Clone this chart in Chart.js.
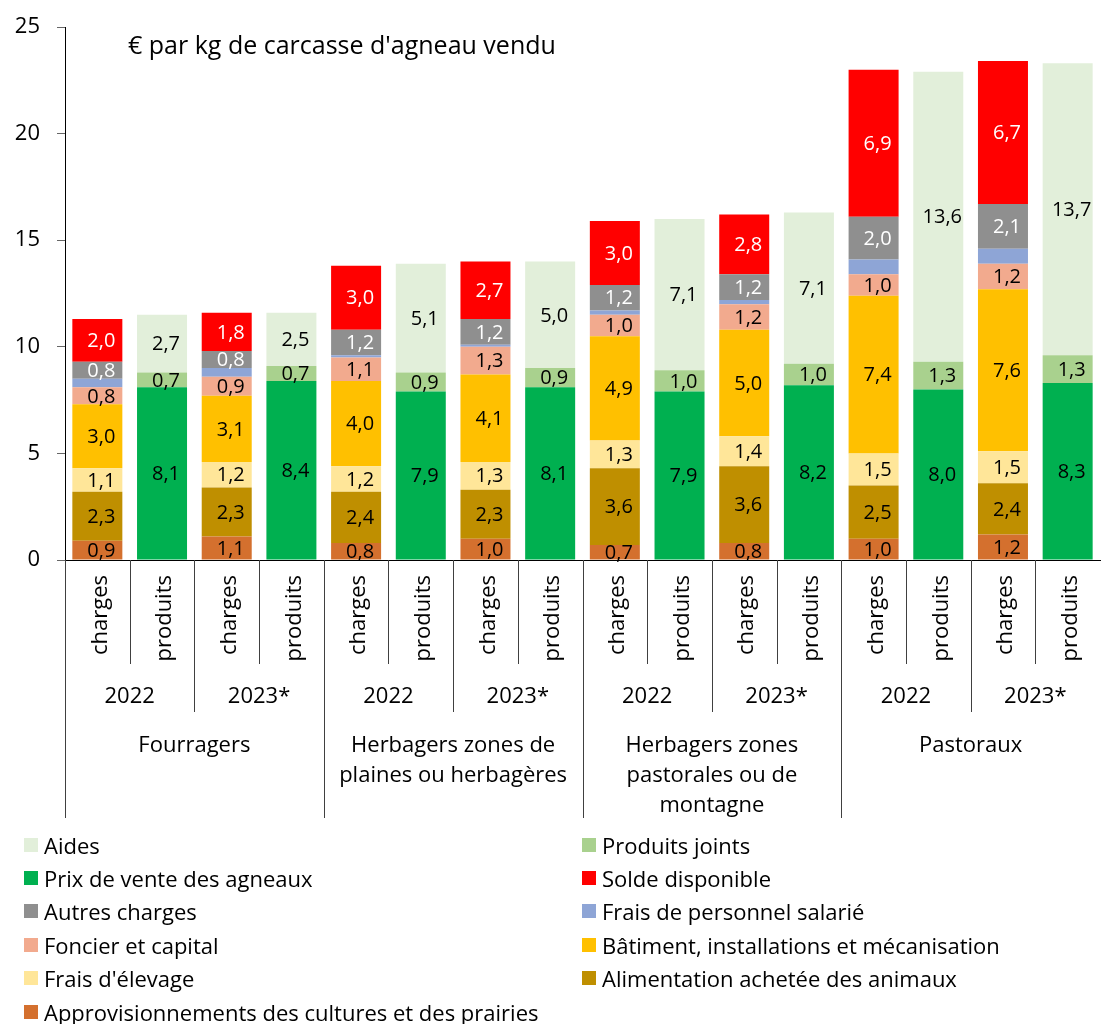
<!DOCTYPE html>
<html lang="fr">
<head>
<meta charset="utf-8">
<title>Charges et produits par kg de carcasse d'agneau</title>
<script src="https://cdn.jsdelivr.net/npm/chart.js@4/dist/chart.umd.min.js"></script>
<style>
  body { margin: 0; background: #fff; font-family: "Open Sans", Lato, sans-serif; }
  #wrap { position: relative; width: 1102px; height: 1024px; }
  #legend { position: absolute; left: 24px; top: 828px; display: grid;
            grid-template-columns: 558px 500px; grid-auto-rows: 33.4px; font-size: 22px; color: #000; }
  #legend div { display: flex; align-items: center; white-space: nowrap; }
  #legend span { display: inline-block; width: 14px; height: 14px; margin-right: 6px; }
</style>
</head>
<body>
<div id="wrap">
  <canvas id="chart" width="1102" height="1024"></canvas>
  <div id="legend"></div>
</div>
<script>
'use strict';

const categories = ['charges', 'produits', 'charges', 'produits', 'charges', 'produits', 'charges', 'produits',
                    'charges', 'produits', 'charges', 'produits', 'charges', 'produits', 'charges', 'produits'];
const years = ['2022', '2023*', '2022', '2023*', '2022', '2023*', '2022', '2023*'];
const groups = [['Fourragers'], ['Herbagers zones de', 'plaines ou herbagères'],
                ['Herbagers zones', 'pastorales ou de', 'montagne'], ['Pastoraux']];
const yTicks = [0, 5, 10, 15, 20, 25];

// charges (stacked from bottom)
const approvisionnements = [0.9, null, 1.1, null, 0.8, null, 1.0, null, 0.7, null, 0.8, null, 1.0, null, 1.2, null];
const alimentation = [2.3, null, 2.3, null, 2.4, null, 2.3, null, 3.6, null, 3.6, null, 2.5, null, 2.4, null];
const fraisElevage = [1.1, null, 1.2, null, 1.2, null, 1.3, null, 1.3, null, 1.4, null, 1.5, null, 1.5, null];
const batiment = [3.0, null, 3.1, null, 4.0, null, 4.1, null, 4.9, null, 5.0, null, 7.4, null, 7.6, null];
const foncier = [0.8, null, 0.9, null, 1.1, null, 1.3, null, 1.0, null, 1.2, null, 1.0, null, 1.2, null];
const personnel = [0.4, null, 0.4, null, 0.1, null, 0.1, null, 0.2, null, 0.2, null, 0.7, null, 0.7, null];
const autresCharges = [0.8, null, 0.8, null, 1.2, null, 1.2, null, 1.2, null, 1.2, null, 2.0, null, 2.1, null];
const solde = [2.0, null, 1.8, null, 3.0, null, 2.7, null, 3.0, null, 2.8, null, 6.9, null, 6.7, null];
// produits
const prixVente = [null, 8.1, null, 8.4, null, 7.9, null, 8.1, null, 7.9, null, 8.2, null, 8.0, null, 8.3];
const produitsJoints = [null, 0.7, null, 0.7, null, 0.9, null, 0.9, null, 1.0, null, 1.0, null, 1.3, null, 1.3];
const aides = [null, 2.7, null, 2.5, null, 5.1, null, 5.0, null, 7.1, null, 7.1, null, 13.6, null, 13.7];

const datasets = [
  { label: 'Approvisionnements des cultures et des prairies', data: approvisionnements, backgroundColor: '#D4702E', labelColor: '#000' },
  { label: 'Alimentation achetée des animaux', data: alimentation, backgroundColor: '#BF8F00', labelColor: '#000' },
  { label: "Frais d'élevage", data: fraisElevage, backgroundColor: '#FFE699', labelColor: '#000' },
  { label: 'Bâtiment, installations et mécanisation', data: batiment, backgroundColor: '#FFC000', labelColor: '#000' },
  { label: 'Foncier et capital', data: foncier, backgroundColor: '#F2AA8E', labelColor: '#000' },
  { label: 'Frais de personnel salarié', data: personnel, backgroundColor: '#8EA5D6', labelColor: null },
  { label: 'Autres charges', data: autresCharges, backgroundColor: '#8F8F8F', labelColor: '#fff' },
  { label: 'Solde disponible', data: solde, backgroundColor: '#FF0000', labelColor: '#fff' },
  { label: 'Prix de vente des agneaux', data: prixVente, backgroundColor: '#00B050', labelColor: '#000' },
  { label: 'Produits joints', data: produitsJoints, backgroundColor: '#A9D18E', labelColor: '#000' },
  { label: 'Aides', data: aides, backgroundColor: '#E2EFDA', labelColor: '#000' }
];

const legendOrder = ['Aides', 'Produits joints', 'Prix de vente des agneaux', 'Solde disponible',
  'Autres charges', 'Frais de personnel salarié', 'Foncier et capital', 'Bâtiment, installations et mécanisation',
  "Frais d'élevage", 'Alimentation achetée des animaux', 'Approvisionnements des cultures et des prairies'];

const FONT = '"Open Sans", Lato, sans-serif';

const drawExtras = {
  id: 'drawExtras',
  afterDatasetsDraw(chart) {
    const ctx = chart.ctx;
    ctx.save();
    ctx.font = '20px ' + FONT;
    ctx.textAlign = 'center';
    ctx.textBaseline = 'middle';
    chart.data.datasets.forEach((ds, i) => {
      if (!ds.labelColor) return;
      chart.getDatasetMeta(i).data.forEach((bar, j) => {
        const v = ds.data[j];
        if (v == null) return;
        ctx.fillStyle = ds.labelColor;
        ctx.fillText(v.toFixed(1).replace('.', ','), bar.x + 4, (bar.y + bar.base) / 2 + 1);
      });
    });
    ctx.restore();
  },
  afterDraw(chart) {
    const ctx = chart.ctx;
    const x = chart.scales.x;
    const area = chart.chartArea;
    const px = i => x.getPixelForValue(i);
    const edge = i => (px(i - 1) + px(i)) / 2;
    const bottom = area.bottom;
    ctx.save();

    // title inside plot
    ctx.fillStyle = '#000';
    ctx.font = '25px ' + FONT;
    ctx.textAlign = 'left';
    ctx.textBaseline = 'middle';
    ctx.fillText("€ par kg de carcasse d'agneau vendu", 128, 47);

    // category labels (rotated)
    ctx.font = '22px ' + FONT;
    categories.forEach((c, i) => {
      ctx.save();
      ctx.translate(px(i) + 3, bottom + 15);
      ctx.rotate(-Math.PI / 2);
      ctx.textAlign = 'right';
      ctx.textBaseline = 'middle';
      ctx.fillText(c, 0, 0);
      ctx.restore();
    });

    // year labels
    ctx.font = '22px ' + FONT;
    ctx.textAlign = 'center';
    years.forEach((y, k) => {
      ctx.fillText(y, (px(2 * k) + px(2 * k + 1)) / 2, bottom + 137);
    });

    // group labels
    groups.forEach((lines, g) => {
      const cx = (px(4 * g) + px(4 * g + 3)) / 2;
      lines.forEach((t, l) => ctx.fillText(t, cx, bottom + 186 + l * 30));
    });

    // separators
    ctx.strokeStyle = '#404040';
    ctx.lineWidth = 1;
    const line = (xx, y2) => {
      ctx.beginPath();
      ctx.moveTo(Math.round(xx) + 0.5, bottom);
      ctx.lineTo(Math.round(xx) + 0.5, y2);
      ctx.stroke();
    };
    line(area.left - 0.5, bottom + 258);
    for (let i = 1; i < categories.length; i++) {
      let len = 104;
      if (i % 4 === 0) len = 258;
      else if (i % 2 === 0) len = 152;
      line(edge(i), bottom + len);
    }
    ctx.restore();
  }
};

function renderLegend() {
  const box = document.getElementById('legend');
  legendOrder.forEach(name => {
    const ds = datasets.find(d => d.label === name);
    const item = document.createElement('div');
    const sw = document.createElement('span');
    sw.style.background = ds.backgroundColor;
    item.appendChild(sw);
    item.appendChild(document.createTextNode(name));
    box.appendChild(item);
  });
}

function renderChart() {
  const config = {
    type: 'bar',
    data: {
      labels: categories,
      datasets: datasets.map(d => ({
        label: d.label,
        data: d.data,
        backgroundColor: d.backgroundColor,
        labelColor: d.labelColor,
        borderWidth: 0,
        barPercentage: 0.773,
        categoryPercentage: 1
      }))
    },
    options: {
      responsive: false,
      animation: false,
      devicePixelRatio: 1,
      layout: { padding: { top: 27, right: 2, left: 0, bottom: 0 } },
      plugins: { legend: { display: false }, tooltip: { enabled: false }, title: { display: false } },
      scales: {
        x: {
          stacked: true,
          ticks: { display: false },
          grid: { display: false },
          border: { color: '#000', width: 1 },
          afterFit(scale) { scale.height = 464; scale.paddingLeft = 0; scale.paddingRight = 0; }
        },
        y: {
          stacked: true,
          min: 0,
          max: 25,
          afterBuildTicks(scale) { scale.ticks = yTicks.map(v => ({ value: v })); },
          ticks: { color: '#000', font: { size: 22, family: FONT }, padding: 17 },
          grid: { drawOnChartArea: false, drawTicks: true, tickLength: 8, color: '#666' },
          border: { color: '#000', width: 1 },
          afterFit(scale) { scale.width = 65; scale.paddingTop = 0; scale.paddingBottom = 0; }
        }
      }
    },
    plugins: [drawExtras]
  };
  new Chart(document.getElementById('chart'), config);
}

renderChart();
renderLegend();
</script>
</body>
</html>
